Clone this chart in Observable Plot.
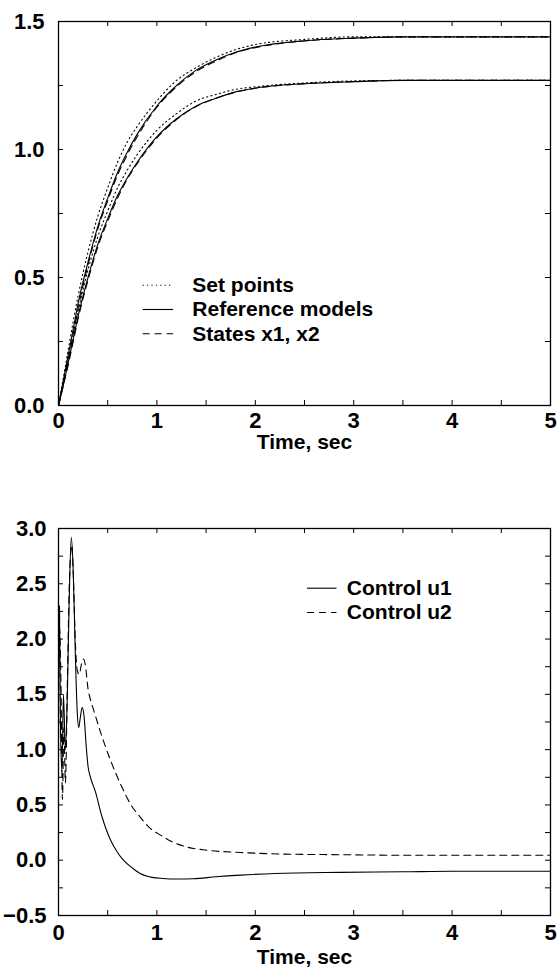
<!DOCTYPE html>
<html>
<head>
<meta charset="utf-8">
<script src="https://cdn.jsdelivr.net/npm/d3@7"></script>
<script src="https://cdn.jsdelivr.net/npm/@observablehq/plot@0.6"></script>
<style>
  html, body { margin: 0; padding: 0; background: #fff; }
  svg { display: block; }
</style>
</head>
<body>
<div id="top"></div>
<div id="bottom"></div>
<script>
// ---------- Data: top panel (states vs. set points / reference models) ----------
const timeTop = [0, 0.05, 0.1, 0.15, 0.2, 0.3, 0.4, 0.5, 0.6, 0.7, 0.8, 1.0, 1.2, 1.4, 1.6, 1.8, 2.0, 2.5, 3.0, 3.5, 4.0, 4.5, 5.0];
const setPoint1 = [0, 0.11, 0.22, 0.33, 0.43, 0.60, 0.74, 0.85, 0.95, 1.03, 1.09, 1.19, 1.27, 1.32, 1.36, 1.39, 1.41, 1.43, 1.44, 1.44, 1.44, 1.44, 1.44];
const refModel1 = [0, 0.10, 0.20, 0.30, 0.40, 0.56, 0.70, 0.81, 0.91, 0.99, 1.06, 1.17, 1.25, 1.31, 1.35, 1.38, 1.40, 1.425, 1.435, 1.44, 1.44, 1.44, 1.44];
const state1    = [0, 0.09, 0.18, 0.28, 0.38, 0.55, 0.69, 0.80, 0.90, 0.98, 1.05, 1.165, 1.245, 1.305, 1.345, 1.378, 1.398, 1.424, 1.435, 1.44, 1.44, 1.44, 1.44];
const setPoint2 = [0, 0.09, 0.19, 0.28, 0.37, 0.53, 0.66, 0.76, 0.85, 0.92, 0.98, 1.075, 1.14, 1.19, 1.215, 1.235, 1.245, 1.26, 1.268, 1.27, 1.27, 1.27, 1.27];
const refModel2 = [0, 0.08, 0.17, 0.26, 0.35, 0.50, 0.63, 0.73, 0.82, 0.89, 0.95, 1.05, 1.12, 1.17, 1.20, 1.225, 1.24, 1.257, 1.265, 1.27, 1.27, 1.27, 1.27];
const state2    = [0, 0.08, 0.16, 0.25, 0.34, 0.49, 0.62, 0.72, 0.81, 0.885, 0.945, 1.045, 1.117, 1.168, 1.20, 1.224, 1.239, 1.257, 1.265, 1.27, 1.27, 1.27, 1.27];

// ---------- Data: bottom panel (controls) ----------
const timeU1 = [0, 0.01, 0.02, 0.035, 0.05, 0.07, 0.09, 0.11, 0.13, 0.15, 0.17, 0.19, 0.205, 0.22, 0.24, 0.26, 0.28, 0.30, 0.325, 0.375, 0.44, 0.53, 0.60, 0.66, 0.75, 0.83, 0.95, 1.06, 1.2, 1.37, 1.6, 1.85, 2.2, 2.86, 3.5, 4.0, 5.0];
const control1 = [1.6, 2.3, 1.2, 0.8, 1.5, 1.0, 1.5, 2.4, 2.92, 2.6, 1.9, 1.35, 1.2, 1.28, 1.38, 1.3, 1.05, 0.85, 0.75, 0.62, 0.40, 0.18, 0.07, 0.0, -0.07, -0.12, -0.155, -0.165, -0.17, -0.168, -0.15, -0.135, -0.12, -0.11, -0.105, -0.1, -0.1];
const timeU2 = [0, 0.01, 0.025, 0.04, 0.055, 0.07, 0.09, 0.11, 0.135, 0.15, 0.17, 0.19, 0.21, 0.235, 0.255, 0.275, 0.30, 0.325, 0.36, 0.43, 0.53, 0.63, 0.73, 0.83, 0.93, 1.05, 1.17, 1.3, 1.51, 1.85, 2.3, 2.86, 3.5, 4.0, 5.0];
const control2 = [1.0, 2.1, 1.6, 0.55, 1.2, 0.7, 1.6, 2.5, 2.85, 2.6, 2.0, 1.72, 1.68, 1.78, 1.82, 1.75, 1.55, 1.45, 1.35, 1.15, 0.90, 0.69, 0.51, 0.39, 0.29, 0.22, 0.16, 0.12, 0.09, 0.07, 0.055, 0.05, 0.045, 0.045, 0.045];

// ---------- Ticks / labels ----------
const xLabelTicks = [0, 1, 2, 3, 4, 5];
const xMinorTicks = [0, 0.5, 1, 1.5, 2, 2.5, 3, 3.5, 4, 4.5, 5];
const yTopLabels = [0, 0.5, 1.0, 1.5];
const yTopTicks = [0, 0.25, 0.5, 0.75, 1.0, 1.25, 1.5];
const yBotLabels = [-0.5, 0, 0.5, 1.0, 1.5, 2.0, 2.5, 3.0];
const yBotTicks = [-0.5, -0.25, 0, 0.25, 0.5, 0.75, 1.0, 1.25, 1.5, 1.75, 2.0, 2.25, 2.5, 2.75, 3.0];
const xTitle = "Time, sec";
const topLegendLabels = ["Set points", "Reference models", "States x1, x2"];
const botLegendLabels = ["Control u1", "Control u2"];

// ---------- Build tables ----------
const topSeries = [
  {name: "set1", kind: "set", values: setPoint1},
  {name: "ref1", kind: "ref", values: refModel1},
  {name: "state1", kind: "state", values: state1},
  {name: "set2", kind: "set", values: setPoint2},
  {name: "ref2", kind: "ref", values: refModel2},
  {name: "state2", kind: "state", values: state2}
];
const topData = topSeries.flatMap(s => s.values.map((v, i) => ({t: timeTop[i], v, name: s.name, kind: s.kind})));
const u1Data = timeU1.map((t, i) => ({t, v: control1[i]}));
const u2Data = timeU2.map((t, i) => ({t, v: control2[i]}));

const dashFor = {set: "1.2,3.2", ref: null, state: "7,5"};
const FONT = "'Liberation Sans', Arial, Helvetica, sans-serif";
const W = 559, ML = 58, MR = 9;
const innerW = W - ML - MR;
const TICK = 5;
const TICKFONT = 22, TITLEFONT = 21, LEGENDFONT = 21;

function frameTicks(xTicks, yTicks, innerH) {
  return [
    Plot.tickX(xTicks, {x: d => d, insetTop: innerH - TICK, stroke: "black", strokeWidth: 1}),
    Plot.tickX(xTicks, {x: d => d, insetBottom: innerH - TICK, stroke: "black", strokeWidth: 1}),
    Plot.tickY(yTicks, {y: d => d, insetRight: innerW - TICK, stroke: "black", strokeWidth: 1}),
    Plot.tickY(yTicks, {y: d => d, insetLeft: innerW - TICK, stroke: "black", strokeWidth: 1})
  ];
}

// ---------- Top panel ----------
const topH = 465, topMT = 21, topMB = 60;
const topInnerH = topH - topMT - topMB;
const topLegend = [
  {label: topLegendLabels[0], kind: "set", y: 0.47},
  {label: topLegendLabels[1], kind: "ref", y: 0.375},
  {label: topLegendLabels[2], kind: "state", y: 0.28}
];
const topPlot = Plot.plot({
  width: W, height: topH,
  marginLeft: ML, marginRight: MR, marginTop: topMT, marginBottom: topMB,
  style: {fontFamily: FONT, fontSize: "21px", fontWeight: "bold", color: "black", background: "white"},
  x: {domain: [0, 5], label: null},
  y: {domain: [0, 1.5], label: null},
  marks: [
    ...["set", "ref", "state"].map(k =>
      Plot.line(topData.filter(d => d.kind === k), {
        x: "t", y: "v", z: "name", stroke: "black", strokeWidth: 1.1,
        strokeDasharray: dashFor[k], curve: "monotone-x"
      })),
    ...frameTicks(xMinorTicks, yTopTicks, topInnerH),
    Plot.frame({stroke: "black", strokeWidth: 1.3}),
    Plot.axisX(xLabelTicks, {tickSize: 0, tickPadding: 7, tickFormat: d => String(d), fontSize: TICKFONT, fontWeight: "bold"}),
    Plot.axisY(yTopLabels, {tickSize: 0, tickPadding: 14, tickFormat: d3.format(".1f"), fontSize: TICKFONT, fontWeight: "bold"}),
    Plot.text([xTitle], {frameAnchor: "bottom", dy: 43, text: d => d, fontSize: TITLEFONT, fontWeight: "bold"}),
    ...topLegend.map(l => Plot.ruleY([l.y], {x1: 0.86, x2: 1.17, stroke: "black", strokeWidth: 1.1, strokeDasharray: dashFor[l.kind]})),
    Plot.text(topLegend, {x: 1.36, y: "y", text: "label", textAnchor: "start", fontSize: LEGENDFONT, fontWeight: "bold"})
  ]
});
document.getElementById("top").append(topPlot);

// ---------- Bottom panel ----------
const botH = 514, botMT = 63, botMB = 64;
const botInnerH = botH - botMT - botMB;
const botLegend = [
  {label: botLegendLabels[0], dash: null, y: 2.46},
  {label: botLegendLabels[1], dash: "7,5", y: 2.24}
];
const botPlot = Plot.plot({
  width: W, height: botH,
  marginLeft: ML, marginRight: MR, marginTop: botMT, marginBottom: botMB,
  style: {fontFamily: FONT, fontSize: "21px", fontWeight: "bold", color: "black", background: "white"},
  x: {domain: [0, 5], label: null},
  y: {domain: [-0.5, 3.0], label: null},
  marks: [
    Plot.line(u1Data, {x: "t", y: "v", stroke: "black", strokeWidth: 1.1, curve: "monotone-x"}),
    Plot.line(u2Data, {x: "t", y: "v", stroke: "black", strokeWidth: 1.1, strokeDasharray: "7,5", curve: "monotone-x"}),
    ...frameTicks(xMinorTicks, yBotTicks, botInnerH),
    Plot.frame({stroke: "black", strokeWidth: 1.3}),
    Plot.axisX(xLabelTicks, {tickSize: 0, tickPadding: 9, tickFormat: d => String(d), fontSize: TICKFONT, fontWeight: "bold"}),
    Plot.axisY(yBotLabels, {tickSize: 0, tickPadding: 12, tickFormat: d3.format(".1f"), fontSize: TICKFONT, fontWeight: "bold"}),
    Plot.text([xTitle], {frameAnchor: "bottom", dy: 48, text: d => d, fontSize: TITLEFONT, fontWeight: "bold"}),
    ...botLegend.map(l => Plot.ruleY([l.y], {x1: 2.53, x2: 2.83, stroke: "black", strokeWidth: 1.1, strokeDasharray: l.dash})),
    Plot.text(botLegend, {x: 2.93, y: "y", text: "label", textAnchor: "start", fontSize: LEGENDFONT, fontWeight: "bold"})
  ]
});
document.getElementById("bottom").append(botPlot);
</script>
</body>
</html>
